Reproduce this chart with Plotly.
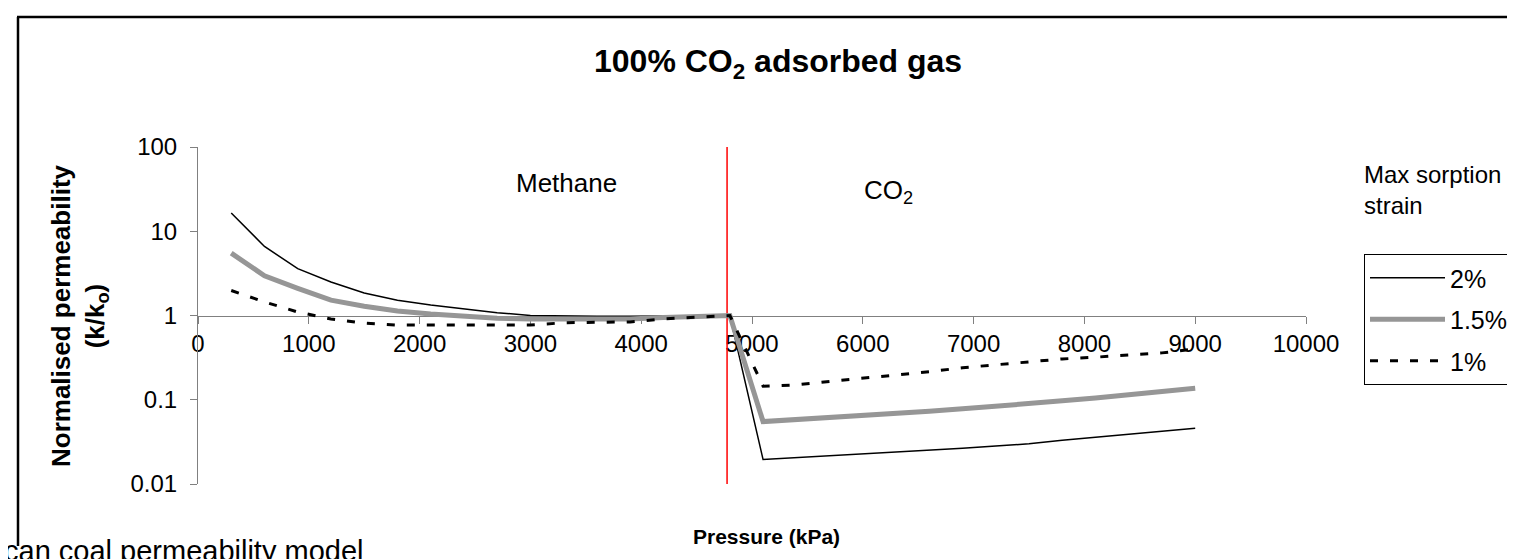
import plotly.graph_objects as go

# ---------------- data ----------------
pressure_kpa = [300, 600, 900, 1200, 1500, 1800, 2100, 2400, 2700, 3000, 3300, 3600, 3900, 4200, 4500, 4800,
                5100, 5400, 5700, 6000, 6300, 6600, 6900, 7200, 7500, 7800, 8100, 8400, 8700, 9000]

strain_2pct = [16.5, 6.6, 3.6, 2.5, 1.85, 1.52, 1.33, 1.2, 1.08, 1.0, 0.98, 0.98, 0.98, 0.98, 1.0, 1.0,
               0.0195, 0.0205, 0.0215, 0.0225, 0.0236, 0.0248, 0.0265, 0.0283, 0.030, 0.033, 0.036, 0.039, 0.043, 0.046]

strain_15pct = [5.5, 2.96, 2.1, 1.52, 1.29, 1.13, 1.04, 0.97, 0.93, 0.91, 0.9, 0.9, 0.91, 0.95, 0.99, 1.0,
                0.055, 0.058, 0.061, 0.064, 0.068, 0.073, 0.078, 0.083, 0.090, 0.097, 0.105, 0.114, 0.125, 0.137]

strain_1pct = [1.98, 1.45, 1.1, 0.91, 0.81, 0.77, 0.77, 0.77, 0.77, 0.77, 0.82, 0.83, 0.84, 0.91, 0.95, 1.0,
               0.145, 0.15, 0.165, 0.18, 0.195, 0.215, 0.24, 0.26, 0.285, 0.305, 0.32, 0.34, 0.36, 0.40]

series_names = ["2%", "1.5%", "1%"]

boundary_pressure = 4775          # methane / CO2 switch
y_span = [0.01, 100]

x_tick_vals = list(range(0, 10001, 1000))
x_tick_text = [str(v) for v in x_tick_vals]
y_tick_vals = [0.01, 0.1, 1, 10, 100]
y_tick_text = ["0.01", "0.1", "1", "10", "100"]

# ---------------- layout geometry ----------------
W, H = 1515, 559
L, R, T, B = 190, 217, 139, 83
PW, PH = W - L - R, H - T - B


def px_x(px):
    return (px - L) / PW


def px_y(py):
    return (H - B - py) / PH


FONT = "Liberation Sans, Arial, sans-serif"

fig = go.Figure()

fig.add_trace(go.Scatter(
    x=[boundary_pressure, boundary_pressure], y=y_span, mode="lines",
    line=dict(color="#ff0000", width=1.5), showlegend=False, hoverinfo="skip"))

fig.add_trace(go.Scatter(x=pressure_kpa, y=strain_2pct, mode="lines", name=series_names[0],
                         legendgroup="a", line=dict(color="black", width=1.5)))
fig.add_trace(go.Scatter(x=pressure_kpa, y=strain_15pct, mode="lines", name=series_names[1],
                         legendgroup="b", line=dict(color="#969696", width=5)))
fig.add_trace(go.Scatter(x=pressure_kpa, y=strain_1pct, mode="lines", name=series_names[2],
                         legendgroup="c", line=dict(color="black", width=3, dash="8px,12px")))

fig.update_layout(
    width=W, height=H,
    margin=dict(l=L, r=R, t=T, b=B, autoexpand=False),
    paper_bgcolor="white", plot_bgcolor="white",
    font=dict(family=FONT, size=24, color="black"),
    showlegend=True,
    legend=dict(
        x=px_x(1356), y=px_y(246), xanchor="left", yanchor="top",
        bordercolor="black", borderwidth=1, bgcolor="white",
        font=dict(size=25), tracegroupgap=6, itemwidth=75,
    ),
    xaxis=dict(
        range=[0, 10000], tickvals=x_tick_vals, ticktext=x_tick_text, ticks="outside", ticklen=7,
        tickcolor="#808080", showline=True, linecolor="#808080", linewidth=1,
        showgrid=False, zeroline=False, anchor="free", position=0.5,
        layer="below traces", tickfont=dict(size=24),
    ),
    yaxis=dict(
        type="log", range=[-2, 2], tickvals=y_tick_vals, ticktext=y_tick_text,
        ticks="outside", ticklen=7, tickcolor="#808080", showline=True,
        linecolor="#808080", linewidth=1, showgrid=False, zeroline=False,
        tickfont=dict(size=24), ticklabelstandoff=8,
    ),
)

annotations = [
    dict(text="<b>100% CO<sub>2</sub> adsorbed gas</b>", x=px_x(770), y=px_y(55),
         xref="paper", yref="paper", showarrow=False, font=dict(size=32),
         xanchor="center", yanchor="middle"),
    dict(text="<b>Normalised permeability<br>(k/k<sub>o</sub>)</b>", x=px_x(71), y=px_y(308),
         xref="paper", yref="paper", showarrow=False, font=dict(size=26),
         textangle=-90, xanchor="center", yanchor="middle"),
    dict(text="<b>Pressure (kPa)</b>", x=px_x(758), y=px_y(528),
         xref="paper", yref="paper", showarrow=False, font=dict(size=21),
         xanchor="center", yanchor="middle"),
    dict(text="Methane", x=px_x(558), y=px_y(175), xref="paper", yref="paper",
         showarrow=False, font=dict(size=26), xanchor="center", yanchor="middle"),
    dict(text="CO<sub>2</sub>", x=px_x(880), y=px_y(183), xref="paper", yref="paper",
         showarrow=False, font=dict(size=26), xanchor="center", yanchor="middle"),
    dict(text="Max sorption<br>strain", x=px_x(1354), y=px_y(151), xref="paper", yref="paper",
         showarrow=False, font=dict(size=24), xanchor="left", yanchor="top", align="left"),
    dict(text="can coal permeability model", x=px_x(-6), y=px_y(543), xref="paper", yref="paper",
         showarrow=False, font=dict(size=29), xanchor="left", yanchor="middle"),
]
fig.update_layout(annotations=annotations)

# chart-area frame (left and top edges)
fig.add_shape(type="line", xref="paper", yref="paper", x0=px_x(10), x1=px_x(10),
              y0=px_y(9), y1=px_y(538), line=dict(color="black", width=2.5))
fig.add_shape(type="line", xref="paper", yref="paper", x0=px_x(9), x1=px_x(1520),
              y0=px_y(9), y1=px_y(9), line=dict(color="black", width=2.5))

fig.write_html("out.html")
